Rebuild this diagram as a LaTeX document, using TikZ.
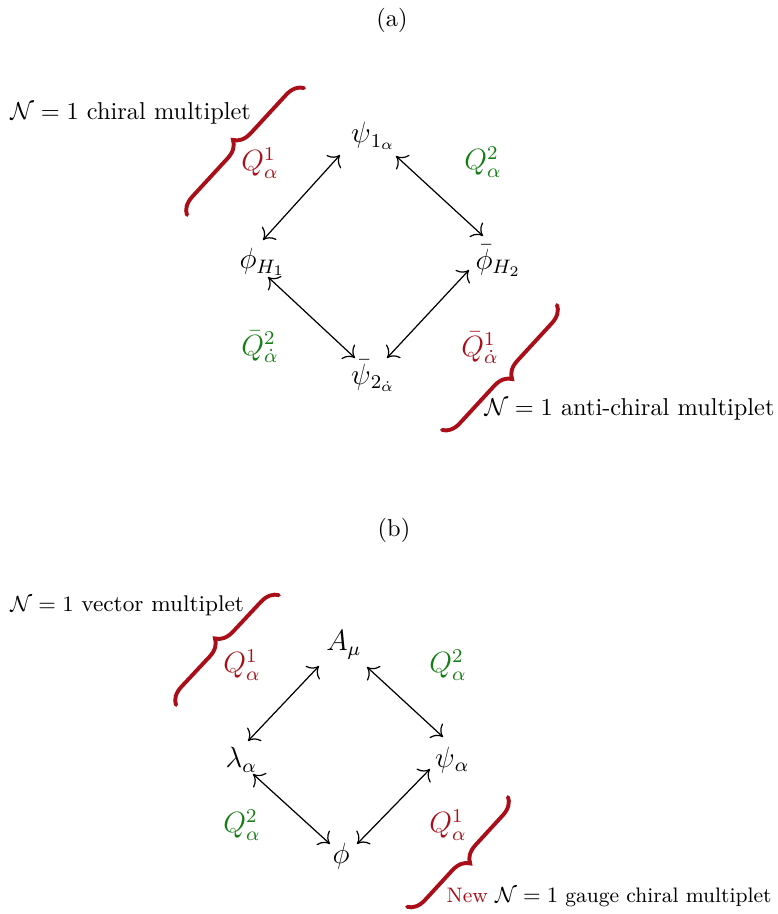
\documentclass[tikz,border=0pt]{standalone}
\usetikzlibrary{decorations.pathreplacing,arrows.meta,calc}
\definecolor{qred}{RGB}{170,15,25}
\definecolor{qgreen}{RGB}{20,125,20}
\begin{document}
\begin{tikzpicture}[x=0.41pt,y=-0.41pt,
  field/.style={font=\large, inner sep=4.3pt},
  qlab/.style={font=\large},
  arr/.style={{Computer Modern Rightarrow[length=4pt,width=8pt]}-{Computer Modern Rightarrow[length=4pt,width=8pt]}, line width=0.5pt},
  bracket/.style={qred, line width=1.6pt, line cap=round, decorate, decoration={brace, amplitude=7pt}},
  note/.style={inner sep=0pt}]
\useasboundingbox (0,0) rectangle (777,914);
% ---------- (a) ----------
\node (ta) at (392,20) {(a)};
\node[field] (psi1) at (361,136) {$\psi\rlap{$_{1_\alpha}$}$};
\node[field] (phiH1) at (248,262) {$\phi\rlap{$_{H_1}$}$};
\node[field] (phiH2) at (484,261) {$\bar\phi\rlap{$_{H_2}$}$};
\node[field] (psi2) at (361,376) {$\bar\psi\rlap{$_{2_{\dot\alpha}}$}$};
\draw[arr] ($(psi1)+(-21,19)$) -- ($(phiH1)+(15,-22)$);
\draw[arr] ($(psi1)+(35,20)$) -- ($(phiH2)+(-1,-25)$);
\draw[arr] ($(phiH1)+(20,15)$) -- ($(psi2)+(-6,-18)$);
\draw[arr] ($(phiH2)+(-15,9)$) -- ($(psi2)+(26,-18)$);
\node[qlab, text=qred] (qa1) at (260,163) {$Q^1_\alpha$};
\node[qlab, text=qgreen] (qa2) at (483,162) {$Q^2_\alpha$};
\node[qlab, text=qgreen] (qa3) at (260,347) {$\bar Q^2_{\dot\alpha}$};
\node[qlab, text=qred] (qa4) at (480,348) {$\bar Q^1_{\dot\alpha}$};
\coordinate (ba1s) at (187,215);
\coordinate (ba1e) at (304,88);
\coordinate (ba2s) at (557,305);
\coordinate (ba2e) at (442,430);
\draw[bracket] (ba1s) -- (ba1e);
\draw[bracket] (ba2s) -- (ba2e);
\node[note, anchor=west] (la1) at (10,113) {$\mathcal{N}=1$ chiral multiplet};
\node[note, anchor=east] (la2) at (775,409) {$\mathcal{N}=1$ anti-chiral multiplet};
% ---------- (b) ----------
\node (tb) at (394,530) {(b)};
\node[field] (A) at (337,645) {$A\rlap{$_\mu$}$};
\node[field] (lam) at (234,760) {$\lambda\rlap{$_\alpha$}$};
\node[field] (psi) at (445,760) {$\psi\rlap{$_\alpha$}$};
\node[field] (phi) at (341,856) {$\phi$};
\draw[arr] ($(A)+(-18,21)$) -- ($(lam)+(14,-19)$);
\draw[arr] ($(A)+(30,22)$) -- ($(psi)+(-2,-23)$);
\draw[arr] ($(lam)+(19,14)$) -- ($(phi)+(-11,-12)$);
\draw[arr] ($(psi)+(-15,9)$) -- ($(phi)+(16,-12)$);
\node[qlab, text=qred] (qb1) at (242,665) {$Q^1_\alpha$};
\node[qlab, text=qgreen] (qb2) at (448,665) {$Q^2_\alpha$};
\node[qlab, text=qgreen] (qb3) at (242,825) {$Q^2_\alpha$};
\node[qlab, text=qred] (qb4) at (448,825) {$Q^1_\alpha$};
\coordinate (bb1s) at (176,705);
\coordinate (bb1e) at (279,595);
\coordinate (bb2s) at (508,797);
\coordinate (bb2e) at (407,907);
\draw[bracket] (bb1s) -- (bb1e);
\draw[bracket] (bb2s) -- (bb2e);
\node[note, anchor=west, font=\fontsize{9.3}{11}\selectfont] (lb1) at (10,606) {$\mathcal{N}=1$ vector multiplet};
\node[note, anchor=east, font=\fontsize{8.6}{10}\selectfont] (lb2) at (772,897) {\textcolor{qred}{New} $\mathcal{N}=1$ gauge chiral multiplet};
\end{tikzpicture}
\end{document}
